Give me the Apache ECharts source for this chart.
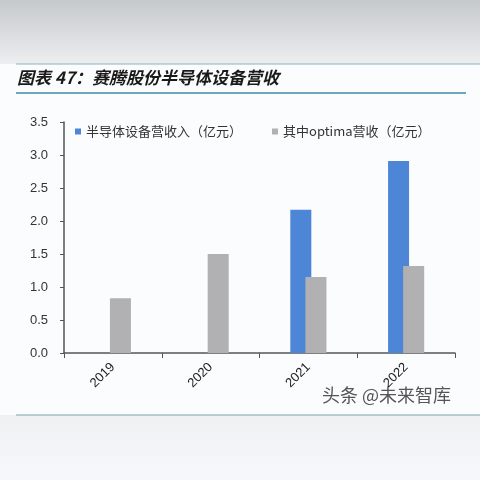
<!DOCTYPE html>
<html>
<head>
<meta charset="utf-8">
<script src="https://cdn.jsdelivr.net/npm/echarts@6/dist/echarts.min.js"></script>
<style>
html,body{margin:0;padding:0;background:#ffffff;}
#chart{width:480px;height:480px;}
</style>
</head>
<body>
<div id="chart"></div>
<script>
// Saiteng semiconductor-equipment revenue (100M CNY)
var years = ['2019', '2020', '2021', '2022'];
var semiRevenue = [null, null, 2.17, 2.91];
var optimaRevenue = [0.83, 1.50, 1.15, 1.32];
var seriesNames = ['半导体设备营收入（亿元）', '其中optima营收（亿元）'];
var titleText = '图表 47：赛腾股份半导体设备营收';
var sourceText = '头条 @未来智库';

var chart = echarts.init(document.getElementById('chart'), null, {renderer: 'canvas'});
var cjk = '"Noto Sans CJK SC", "Noto Sans", sans-serif';

chart.setOption({
  backgroundColor: '#fbfcfd',
  animation: false,
  graphic: [
    {type: 'rect', z: -10, shape: {x: 0, y: 0, width: 480, height: 64},
      style: {fill: new echarts.graphic.LinearGradient(0, 0, 0, 1, [
        {offset: 0, color: '#c6c9cc'}, {offset: 1, color: '#eceef0'}])}},
    {type: 'rect', z: -10, shape: {x: 0, y: 415, width: 480, height: 65},
      style: {fill: new echarts.graphic.LinearGradient(0, 0, 0, 1, [
        {offset: 0, color: '#eef0f2'}, {offset: 1, color: '#f6f8fb'}])}},
    {type: 'line', shape: {x1: 16, y1: 64, x2: 480, y2: 64}, style: {stroke: '#8fb0bb', lineWidth: 1}},
    {type: 'line', shape: {x1: 16, y1: 93, x2: 466, y2: 93}, style: {stroke: '#6ea6bd', lineWidth: 2}},
    {type: 'line', shape: {x1: 16, y1: 415, x2: 480, y2: 415}, style: {stroke: '#7fa4b2', lineWidth: 1}},
    {type: 'text', left: 17, top: 69,
      style: {text: titleText, fill: '#1a1a1a', font: 'italic bold 17px ' + cjk}},
    {type: 'text', left: 322, top: 386,
      style: {text: sourceText, fill: '#555', font: '18px ' + cjk}}
  ],
  legend: {
    left: 70, top: 120,
    itemWidth: 6, itemHeight: 6, itemGap: 30,
    icon: 'rect',
    textStyle: {fontSize: 13, color: '#333', fontFamily: cjk, padding: [0, 0, 0, 0]},
    data: seriesNames
  },
  grid: {left: 64, right: 25, top: 122, bottom: 127, containLabel: false},
  xAxis: {
    type: 'category',
    data: years,
    axisLine: {lineStyle: {color: '#555', width: 1.5}},
    axisTick: {show: true, length: 5, lineStyle: {color: '#555'}},
    axisLabel: {rotate: 45, fontSize: 13, color: '#222', margin: 12, fontFamily: 'Liberation Sans, Arial, sans-serif'}
  },
  yAxis: {
    type: 'value',
    min: 0, max: 3.5, interval: 0.5,
    axisLine: {show: true, lineStyle: {color: '#555', width: 1.5}},
    axisTick: {show: true, length: 4, inside: false, lineStyle: {color: '#555'}},
    splitLine: {show: false},
    axisLabel: {fontSize: 13, color: '#333', margin: 16, formatter: function (v) { return v.toFixed(1); },
      fontFamily: 'Liberation Sans, Arial, sans-serif'}
  },
  series: [
    {name: seriesNames[0], type: 'bar', data: semiRevenue, barWidth: 21, barGap: '-28%',
      itemStyle: {color: '#4d86d6'}},
    {name: seriesNames[1], type: 'bar', data: optimaRevenue, barWidth: 21, barGap: '-28%',
      itemStyle: {color: '#b1b1b3'}}
  ]
});
</script>
</body>
</html>
